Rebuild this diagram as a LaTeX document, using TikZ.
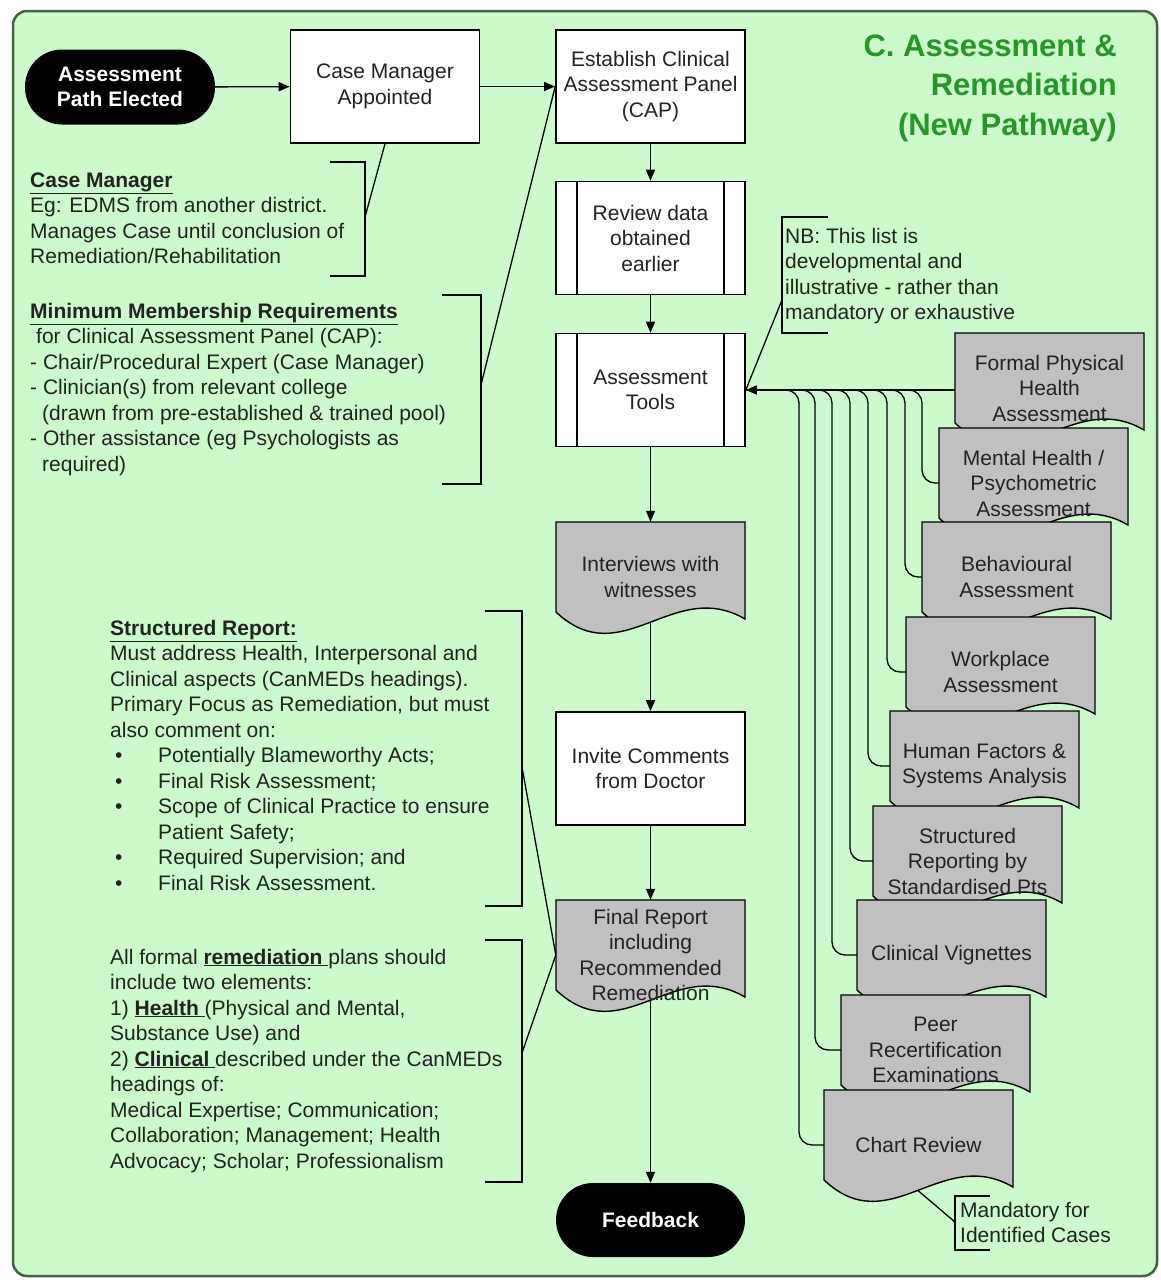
\documentclass[tikz,border=0pt]{standalone}
\usepackage{fontspec}
\setmainfont{Liberation Sans}
\usetikzlibrary{arrows.meta,calc}

\definecolor{panelbg}{RGB}{204,250,204}
\definecolor{panelrim}{RGB}{70,95,70}
\definecolor{docgray}{RGB}{192,192,192}
\definecolor{titlegreen}{RGB}{40,150,40}
\definecolor{ink}{RGB}{35,35,35}

\tikzset{
  txt/.style={font=\fontsize{21}{25.5}\selectfont, text=ink},
  box/.style={txt, draw=black, line width=1.6pt, fill=white, minimum width=189pt,
    minimum height=113pt, align=center, inner sep=0pt},
  terminal/.style={fill=black, text=white, font=\fontsize{21}{25.5}\selectfont\bfseries,
    rounded corners=37pt, minimum width=190pt, minimum height=75pt, align=center, inner sep=0pt},
  doclabel/.style={txt, align=center, inner sep=0pt, minimum width=189pt, minimum height=110pt},
  docbody/.style={fill=docgray, draw=black, line width=1.4pt},
  flow/.style={line width=1.4pt, -{Triangle[length=11pt,width=9pt]}},
  link/.style={line width=1.3pt},
  bracket/.style={line width=1.6pt},
  % anchored at the baseline of the last line
  note/.style={txt, align=left, anchor=base west, inner sep=0pt},
}

% document symbol with a wavy lower edge: name, left, top, text
\newcommand{\docshape}[4]{%
  \filldraw[docbody] (#2,#3) -- ({#2+189},#3) -- ({#2+189},{#3+97})
    .. controls ({#2+117},{#3+55}) and ({#2+66},{#3+152}) .. (#2,{#3+90}) -- cycle;
  \node[doclabel] (#1) at ({#2+94.5},{#3+55}) {#4};
  \coordinate (#1-foot) at ({#2+94.5},{#3+101});
}

\begin{document}
\begin{tikzpicture}[x=1pt,y=-1pt]
\useasboundingbox (0,0) rectangle (1160,1280);
\fill[white] (0,0) rectangle (1160,1280);

% panel
\draw[fill=panelbg, draw=panelrim, line width=2.5pt, rounded corners=14pt]
  (13,11) rectangle (1157,1276);

% title
\node[anchor=base east, align=right, inner sep=0pt, text=titlegreen,
      font=\fontsize{31}{39.5}\selectfont\bfseries] (title) at (1117,135)
  {C. Assessment \&\\Remediation\\(New Pathway)};

% main flow
\node[terminal] (start) at (120,87) {Assessment\\Path Elected};
\node[box] (cm) at (385,86.5) {Case Manager\\Appointed};
\node[box] (cap) at (650.5,86.5) {Establish Clinical\\Assessment Panel\\(CAP)};
\node[box] (review) at (650.5,238) {Review data\\obtained\\earlier};
\node[box] (tools) at (650.5,390) {Assessment\\Tools};
\foreach \n in {review,tools}{
  \draw[line width=1.6pt] ($(\n.north west)+(22,0)$) -- ($(\n.south west)+(22,0)$);
  \draw[line width=1.6pt] ($(\n.north east)+(-22,0)$) -- ($(\n.south east)+(-22,0)$);
}
\docshape{interviews}{556}{522}{Interviews with\\witnesses}
\node[box] (invite) at (650.5,768.5) {Invite Comments\\from Doctor};
\docshape{final}{556}{900}{Final Report\\including\\Recommended\\Remediation}
\node[terminal, minimum width=189pt, minimum height=74pt] (feedback) at (650.5,1220) {Feedback};

\draw[flow] (start) -- (cm);
\draw[flow] (cm) -- (cap);
\draw[flow] (cap) -- (review);
\draw[flow] (review) -- (tools);
\draw[flow] (tools) -- (interviews.north);
\draw[flow] (interviews-foot) -- (invite);
\draw[flow] (invite) -- (final.north);
\draw[flow] (final-foot) -- (feedback);

% assessment tools stack
\docshape{fph}{955}{333}{Formal Physical\\Health\\Assessment}
\docshape{mhp}{939}{428}{Mental Health /\\Psychometric\\Assessment}
\docshape{beh}{922}{522}{Behavioural\\Assessment}
\docshape{wpl}{906}{617}{Workplace\\Assessment}
\docshape{hfs}{890}{711}{Human Factors \&\\Systems Analysis}
\docshape{srs}{873}{806}{Structured\\Reporting by\\Standardised Pts}
\docshape{cvg}{857}{900}{Clinical Vignettes}
\docshape{prx}{841}{995}{Peer\\Recertification\\Examinations}
\docshape{crv}{824}{1090}{Chart Review}

\foreach \n/\x in {mhp/922, beh/905, wpl/887, hfs/868, srs/850, cvg/832, prx/815, crv/799}
  \draw[link, rounded corners=13pt] (\n.west) -| (\x,0 |- tools.east) -- (tools.east);
\draw[flow] (fph.west |- tools.east) -- (tools.east);

% notes on the left
\node[note] (cmnote) at (30,263.5)
  {\underline{\textbf{Case Manager}}\\Eg: EDMS from another district.\\Manages Case until conclusion of\\Remediation/Rehabilitation};
\draw[bracket] (330,162) -- (365,162) -- (365,276) -- (330,276);
\coordinate (cmbr) at (365,217);
\draw[link] (cmbr) -- (cm.south);

\node[note] (mmnote) at (30,471)
  {\underline{\textbf{Minimum Membership Requirements}}\\
   \hspace*{6pt}for Clinical Assessment Panel (CAP):\\
   - Chair/Procedural Expert (Case Manager)\\
   - Clinician(s) from relevant college\\
   \hspace*{12pt}(drawn from pre-established \& trained pool)\\
   - Other assistance (eg Psychologists as\\
   \hspace*{12pt}required)};
\draw[bracket] (442,295) -- (481,295) -- (481,484) -- (442,484);
\coordinate (mmbr) at (481,385);
\draw[link] (mmbr) -- (cap.west);

\node[note] (srnote) at (110,890)
  {\underline{\textbf{Structured Report:}}\\
   Must address Health, Interpersonal and\\
   Clinical aspects (CanMEDs headings).\\
   Primary Focus as Remediation, but must\\
   also comment on:\\
   \makebox[48pt][l]{\hspace*{5pt}\textbullet}Potentially Blameworthy Acts;\\
   \makebox[48pt][l]{\hspace*{5pt}\textbullet}Final Risk Assessment;\\
   \makebox[48pt][l]{\hspace*{5pt}\textbullet}Scope of Clinical Practice to ensure\\
   \hspace*{48pt}Patient Safety;\\
   \makebox[48pt][l]{\hspace*{5pt}\textbullet}Required Supervision; and\\
   \makebox[48pt][l]{\hspace*{5pt}\textbullet}Final Risk Assessment.};
\draw[bracket] (485,611) -- (522,611) -- (522,906) -- (485,906);
\coordinate (srbr) at (522,767);
\draw[link] (srbr) -- (final.west);

\node[note] (rmnote) at (110,1168)
  {All formal \underline{\textbf{remediation }}plans should\\
   include two elements:\\
   1) \underline{\textbf{Health }}(Physical and Mental,\\
   Substance Use) and\\
   2) \underline{\textbf{Clinical }}described under the CanMEDs\\
   headings of:\\
   Medical Expertise; Communication;\\
   Collaboration; Management; Health\\
   Advocacy; Scholar; Professionalism};
\draw[bracket] (485,940) -- (522,940) -- (522,1182) -- (485,1182);
\coordinate (rmbr) at (522,1053);
\draw[link] (rmbr) -- (final.west);

% notes on the right
\node[note] (nbnote) at (785,319.5)
  {NB: This list is\\developmental and\\illustrative - rather than\\mandatory or exhaustive};
\draw[bracket] (828,217) -- (782,217) -- (782,333) -- (828,333);
\coordinate (nbbr) at (782,300);
\draw[link] (nbbr) -- (tools.east);

\node[note] (mandnote) at (960,1242.5) {Mandatory for\\Identified Cases};
\draw[bracket] (990,1196) -- (955,1196) -- (955,1250) -- (990,1250);
\coordinate (mandbr) at (955,1222);
\draw[link] (crv-foot) -- (mandbr);
\end{tikzpicture}
\end{document}
